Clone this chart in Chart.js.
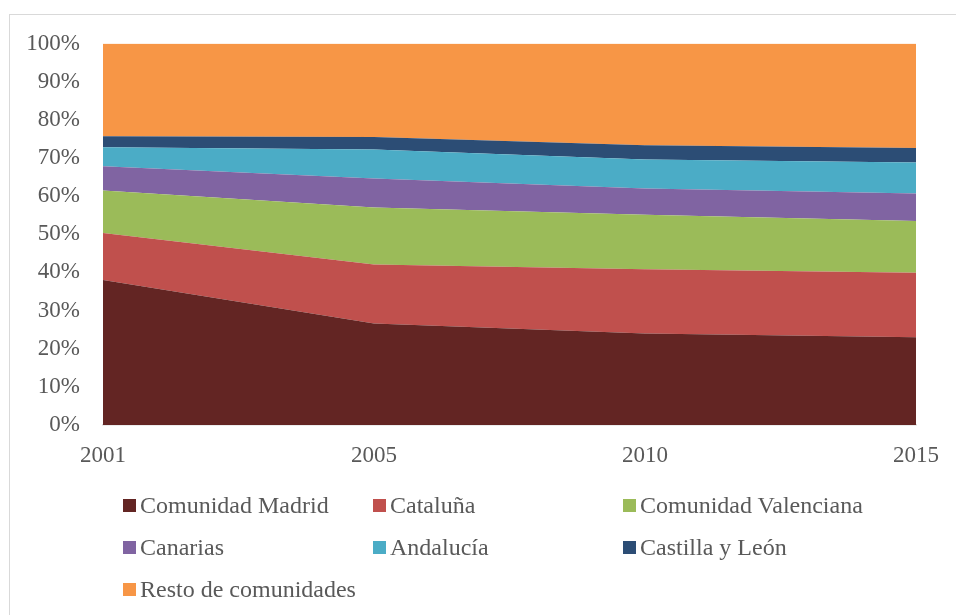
<!DOCTYPE html>
<html>
<head>
<meta charset="utf-8">
<script src="https://cdn.jsdelivr.net/npm/chart.js@4"></script>
<style>
  html, body { margin: 0; padding: 0; background: #fff; }
  body { width: 956px; height: 615px; position: relative; overflow: hidden; font-family: "Liberation Serif", "Times New Roman", serif; }
  #frame { position: absolute; left: 9px; top: 14px; width: 1100px; height: 800px; border-left: 1.5px solid #d9d9d9; border-top: 1.5px solid #d9d9d9; box-sizing: border-box; }
  #wrap { position: absolute; left: 0; top: 0; width: 956px; height: 480px; }
  #legend { position: absolute; left: 0; top: 0; width: 956px; height: 615px; pointer-events: none; }
  .item { position: absolute; display: flex; align-items: center; font-size: 24px; color: #595959; white-space: nowrap; line-height: 1; }
  .box { width: 13px; height: 13px; margin-right: 4px; flex: none; }
</style>
</head>
<body>
<div id="frame"></div>
<div id="wrap"><canvas id="c"></canvas></div>
<div id="legend"></div>
<script>
const categories = ["2001", "2005", "2010", "2015"];
const seriesNames = ["Comunidad Madrid", "Cataluña", "Comunidad Valenciana", "Canarias", "Andalucía", "Castilla y León", "Resto de comunidades"];
const madrid     = [38.0, 26.6, 24.0, 23.0];
const cataluna   = [12.3, 15.5, 16.8, 16.9];
const valenciana = [11.2, 14.9, 14.3, 13.6];
const canarias   = [6.3, 7.6, 6.9, 7.2];
const andalucia  = [5.0, 7.6, 7.6, 8.1];
const castilla   = [2.9, 3.3, 3.7, 3.8];
const resto      = [24.3, 24.5, 26.7, 27.4];
const yTicks = [0, 10, 20, 30, 40, 50, 60, 70, 80, 90, 100];

const seriesValues = [madrid, cataluna, valenciana, canarias, andalucia, castilla, resto];
const colors = ["#632523", "#c0504d", "#9bbb59", "#8064a2", "#4bacc6", "#2c4d75", "#f79646"];

const datasets = seriesNames.map((name, i) => ({
  label: name,
  data: seriesValues[i],
  backgroundColor: colors[i],
  borderColor: colors[i],
  borderWidth: 0,
  pointRadius: 0,
  pointHoverRadius: 0,
  tension: 0,
  fill: i === 0 ? 'origin' : '-1'
}));

const FONT = "'Liberation Serif', 'Times New Roman', serif";
const TXT = "#595959";

const chart = new Chart(document.getElementById('c'), {
  type: 'line',
  data: { labels: categories, datasets: datasets },
  options: {
    responsive: true,
    maintainAspectRatio: false,
    animation: false,
    layout: { padding: { top: 43.5, right: 38, left: 0, bottom: 0 } },
    plugins: { legend: { display: false }, tooltip: { enabled: false } },
    scales: {
      x: {
        type: 'category',
        offset: false,
        grid: { display: false, drawTicks: false },
        border: { display: true, color: '#d9d9d9', width: 1.5 },
        ticks: { color: TXT, font: { family: FONT, size: 23 }, padding: 17, maxRotation: 0, autoSkip: false },
        afterFit: (s) => { s.height = 55; }
      },
      y: {
        stacked: true,
        min: 0,
        max: 100,
        afterBuildTicks: (s) => { s.ticks = yTicks.map(v => ({ value: v })); },
        grid: { display: false, drawTicks: false },
        border: { display: false },
        ticks: { color: TXT, font: { family: FONT, size: 23 }, padding: 23, callback: (v) => v + '%' },
        afterFit: (s) => { s.width = 103; }
      }
    }
  }
});

// HTML legend built from the chart's datasets (3-column grid)
const colLeft = [123, 373, 623];
const rowCenter = [505, 547, 589];
const legend = document.getElementById('legend');
chart.data.datasets.forEach((ds, i) => {
  const item = document.createElement('div');
  item.className = 'item';
  item.style.left = colLeft[i % 3] + 'px';
  item.style.top = (rowCenter[Math.floor(i / 3)] - 12) + 'px';
  item.style.height = '24px';
  const box = document.createElement('span');
  box.className = 'box';
  box.style.background = ds.backgroundColor;
  const txt = document.createElement('span');
  txt.textContent = ds.label;
  item.appendChild(box);
  item.appendChild(txt);
  legend.appendChild(item);
});
</script>
</body>
</html>
